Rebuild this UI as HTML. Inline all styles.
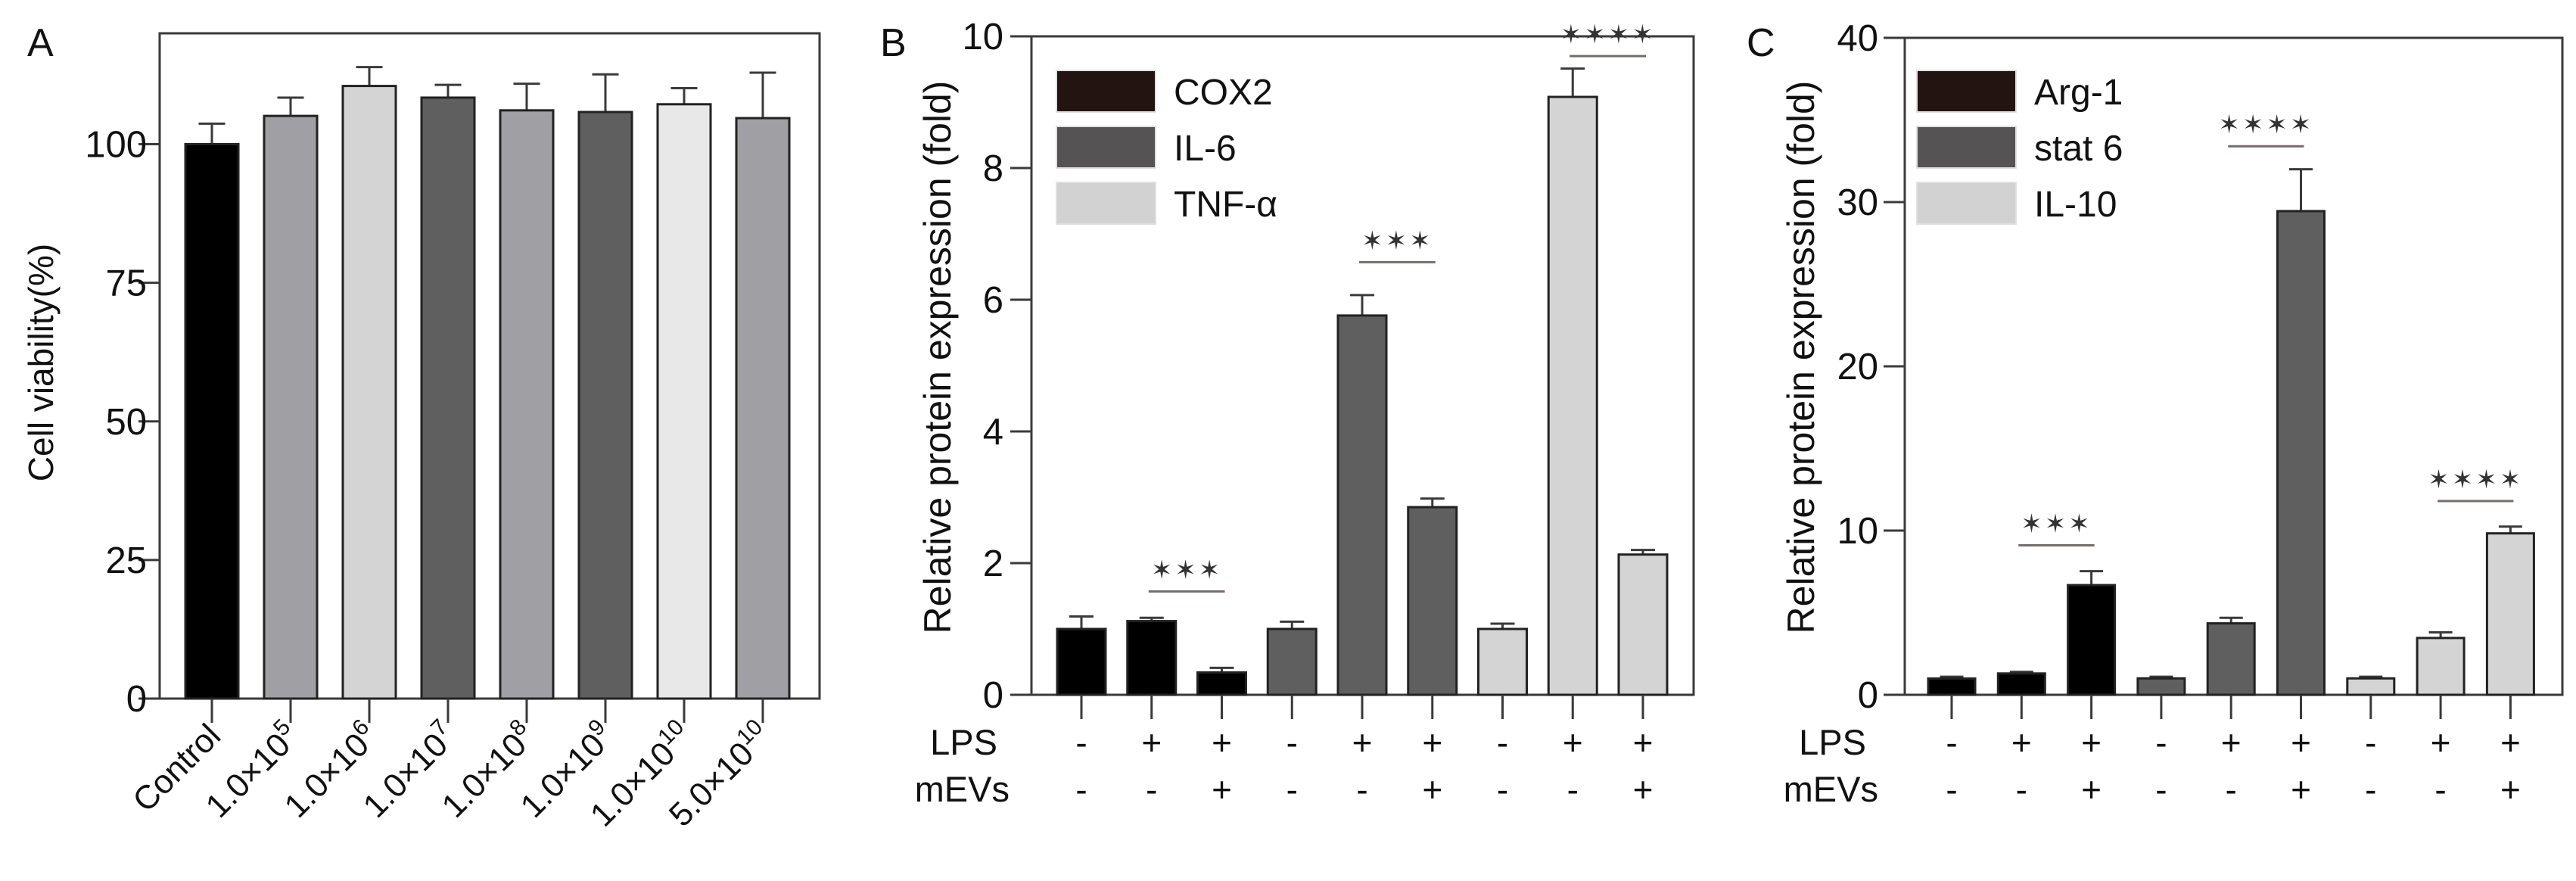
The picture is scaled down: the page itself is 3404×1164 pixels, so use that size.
<!DOCTYPE html>
<html><head><meta charset="utf-8">
<style>
html,body{margin:0;padding:0;background:#fff;}
svg{display:block;font-family:"Liberation Sans",Arial,sans-serif;}
</style></head>
<body>
<svg id="fig" width="3404" height="1164" viewBox="0 0 3404 1164" xmlns="http://www.w3.org/2000/svg"></svg>
<script>
// ---- Panel A data ----
const aCategories = ["Control","1.0×10|5","1.0×10|6","1.0×10|7","1.0×10|8","1.0×10|9","1.0×10|10","5.0×10|10"];
const aValues = [100, 105.1, 110.5, 108.4, 106.1, 105.8, 107.2, 104.7];
const aErrors = [3.7, 3.3, 3.4, 2.3, 4.8, 6.8, 2.9, 8.2];
const aTicks = [0, 25, 50, 75, 100];
const aColors = ["#000000","#a0a0a4","#d4d4d4","#5f5f5f","#a0a0a4","#5f5f5f","#e8e8e8","#a0a0a4"];
// ---- Panel B data ----
const bValues = [1.0, 1.12, 0.34, 1.0, 5.76, 2.85, 1.0, 9.08, 2.13];
const bErrors = [0.19, 0.05, 0.07, 0.11, 0.31, 0.13, 0.08, 0.43, 0.07];
const bTicks = [0, 2, 4, 6, 8, 10];
const bLegend = ["COX2", "IL-6", "TNF-α"];
// significance: [from index, to index, bracket level (data units), stars]
const bSig = [[1, 2, 1.57, "✶✶✶"], [4, 5, 6.57, "✶✶✶"], [7, 8, 9.7, "✶✶✶✶"]];
// ---- Panel C data ----
const cValues = [0.99, 1.3, 6.68, 1.0, 4.35, 29.45, 1.0, 3.46, 9.83];
const cErrors = [0.11, 0.1, 0.85, 0.1, 0.34, 2.55, 0.1, 0.34, 0.41];
const cTicks = [0, 10, 20, 30, 40];
const cLegend = ["Arg-1", "stat 6", "IL-10"];
const cSig = [[1, 2, 9.1, "✶✶✶"], [4, 5, 33.4, "✶✶✶✶"], [7, 8, 11.8, "✶✶✶✶"]];
// ---- shared ----
const lpsRow = ["-", "+", "+", "-", "+", "+", "-", "+", "+"];
const mevsRow = ["-", "-", "+", "-", "-", "+", "-", "-", "+"];
const groupColors = ["#000000","#000000","#000000","#5f5f5f","#5f5f5f","#5f5f5f","#d4d4d4","#d4d4d4","#d4d4d4"];
const legendColors = ["#231412", "#555353", "#d2d2d2"];

const NS = "http://www.w3.org/2000/svg";
const svg = document.getElementById("fig");
function mk(tag, attrs, parent, text) {
  const e = document.createElementNS(NS, tag);
  for (const k in attrs) e.setAttribute(k, attrs[k]);
  if (text !== undefined) e.textContent = text;
  (parent || svg).appendChild(e);
  return e;
}
const AX = "#3a3a3a";

function frame(g, L, R, T, B, yTicks, yScale, tickLabelX) {
  mk("rect", {x: L, y: T, width: R - L, height: B - T, fill: "none", stroke: AX, "stroke-width": 3}, g);
  yTicks.forEach(t => {
    const y = yScale(t);
    mk("line", {x1: L - 28, x2: L, y1: y, y2: y, stroke: AX, "stroke-width": 3}, g);
    const tx = mk("text", {x: tickLabelX, y: y + 17, "text-anchor": "end", "font-size": 49, fill: "#111"}, g, String(t));
    
    
  });
}

function bars(g, vals, errs, colors, xPos, bw, yScale, B, name) {
  vals.forEach((v, i) => {
    const cx = xPos(i), yt = yScale(v), ye = yScale(v + errs[i]);
    mk("line", {x1: cx, x2: cx, y1: yt, y2: ye, stroke: AX, "stroke-width": 3}, g);
    mk("line", {x1: cx - bw * 0.25, x2: cx + bw * 0.25, y1: ye, y2: ye, stroke: AX, "stroke-width": 3}, g);
    const r = mk("rect", {x: cx - bw / 2, y: yt, width: bw, height: B - yt, fill: colors[i], stroke: "#222", "stroke-width": 3}, g);
    
    
    mk("line", {x1: cx, x2: cx, y1: B, y2: B + 32, stroke: AX, "stroke-width": 3}, g);
  });
}

// ================= Panel A =================
(function () {
  const g = mk("g", {});  
  const L = 211, R = 1083, T = 44, B = 923, max = 120;
  const y = v => B - v / max * (B - T);
  const x = i => 280 + i * 104;
  frame(g, L, R, T, B, aTicks, y, 194);
  bars(g, aValues, aErrors, aColors, x, 70, y, B, 'a');
  aCategories.forEach((c, i) => {
    const parts = c.split("|");
    const t = mk("text", {x: x(i) + 14, y: 975, "text-anchor": "end", "font-size": 44, fill: "#111", transform: `rotate(-45 ${x(i) + 14} 975)`}, g);
    
    
    mk("tspan", {}, t, parts[0]);
    if (parts[1]) mk("tspan", {dy: -18, "font-size": 30}, t, parts[1]);
  });
  const yt = mk("text", {x: 0, y: 0, "text-anchor": "middle", "font-size": 46, fill: "#111", transform: "translate(70 479) rotate(-90)"}, g, "Cell viability(%)");
   
  const pl = mk("text", {x: 36, y: 74, "font-size": 52, fill: "#111"}, g, "A");
   
})();

// ================= Panels B & C =================
function panel(cfg) {
  const g = mk("g", {});  
  const {L, R, T, B, max} = cfg;
  const y = v => B - v / max * (B - T);
  const x = i => cfg.x0 + i * cfg.dx;
  frame(g, L, R, T, B, cfg.ticks, y, cfg.tickX);
  bars(g, cfg.values, cfg.errors, groupColors, x, cfg.bw, y, B, cfg.short);
  cfg.legend.forEach((lab, i) => {
    const ly = 93 + i * 74;
    const r = mk("rect", {x: cfg.legX, y: ly, width: 131, height: 55, fill: legendColors[i], stroke: "#e0e0e0", "stroke-width": 2}, g);
     
    const t = mk("text", {x: cfg.legX + 155, y: ly + 45, "font-size": 48, fill: "#111"}, g, lab);
     
  });
  cfg.sig.forEach(s => {
    const xa = x(s[0]) - 4, xb = x(s[1]) + 4;
    const ly = y(s[2]);
    const ln = mk("line", {x1: xa, x2: xb, y1: ly, y2: ly, stroke: "#7a6a6a", "stroke-width": 3}, g);
     
    const st = mk("text", {x: (xa + xb) / 2, y: ly - 17, "text-anchor": "middle", "font-size": 34, "letter-spacing": 3, fill: "#333", "font-family": "DejaVu Sans, sans-serif"}, g, s[3]);
     
  });
  const r1 = mk("text", {x: cfg.rowX, y: 997, "text-anchor": "end", "font-size": 47, fill: "#111"}, g, "LPS");
   
  const r2 = mk("text", {x: cfg.rowX + 16, y: 1059, "text-anchor": "end", "font-size": 47, fill: "#111"}, g, "mEVs");
   
  lpsRow.forEach((s, i) => {
    const t = mk("text", {x: x(i), y: 997, "text-anchor": "middle", "font-size": 46, fill: "#111"}, g, s);
     
  });
  mevsRow.forEach((s, i) => {
    const t = mk("text", {x: x(i), y: 1059, "text-anchor": "middle", "font-size": 46, fill: "#111"}, g, s);
     
  });
  const yt = mk("text", {x: 0, y: 0, "text-anchor": "middle", "font-size": 50, fill: "#111", transform: `translate(${cfg.titleX} 472) rotate(-90)`}, g, "Relative protein expression (fold)");
   
  const pl = mk("text", {x: cfg.labelX, y: 74, "font-size": 52, fill: "#111"}, g, cfg.label);
   
}

panel({name: 'panel-b-m1-markers', short: 'b', label: 'B', L: 1363, R: 2238, T: 48, B: 918, max: 10,
  x0: 1429, dx: 92.75, bw: 64, ticks: bTicks, tickX: 1326, values: bValues, errors: bErrors,
  legend: bLegend, legX: 1396, sig: bSig, rowX: 1318, titleX: 1256, labelX: 1163});
panel({name: 'panel-c-m2-markers', short: 'c', label: 'C', L: 2517, R: 3386, T: 50, B: 918, max: 40,
  x0: 2579, dx: 92.3, bw: 62, ticks: cTicks, tickX: 2482, values: cValues, errors: cErrors,
  legend: cLegend, legX: 2533, sig: cSig, rowX: 2466, titleX: 2397, labelX: 2308});
</script>
</body></html>
